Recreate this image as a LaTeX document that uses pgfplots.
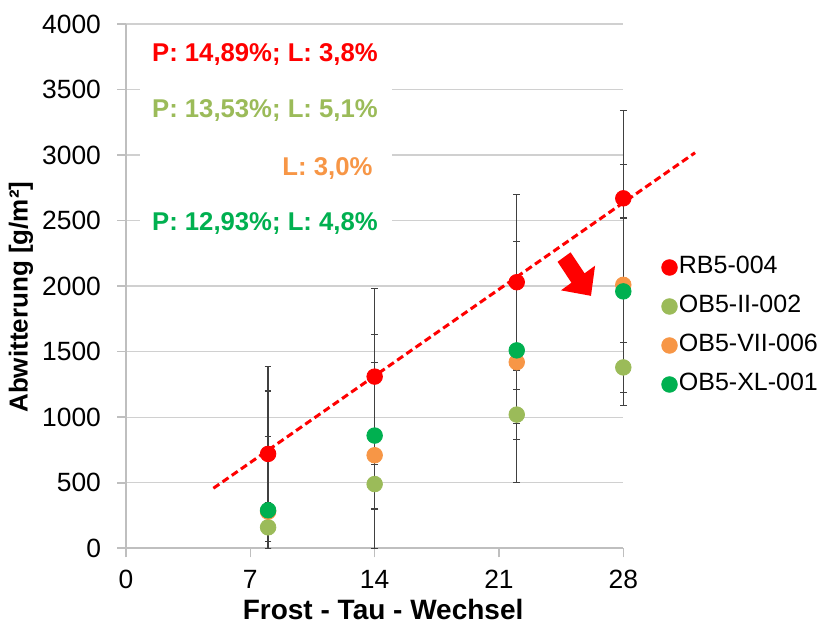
\documentclass[border=0pt]{standalone}
\usepackage{fontspec}
\setmainfont{Liberation Sans}
\usepackage{pgfplots}
\usepackage{pgfplotstable}
\pgfplotsset{compat=1.18}

\definecolor{rbred}{RGB}{255,0,0}
\definecolor{obolive}{RGB}{155,187,89}
\definecolor{oborange}{RGB}{247,150,70}
\definecolor{obgreen}{RGB}{0,176,80}
\definecolor{axgray}{RGB}{191,191,191}
\definecolor{gridgray}{RGB}{208,208,208}
\definecolor{errgray}{RGB}{64,64,64}

% x = Frost-Tau-Wechsel, y = Abwitterung, ep/em = error plus/minus
\pgfplotstableread{
x  y    ep  em
8  720  670 670
14 1310 670 670
22 2030 670 670
28 2670 670 670
}\rbdata
\pgfplotstableread{
x  y    ep  em
8  160  190 160
14 490  190 190
22 1020 190 190
28 1380 190 190
}\obzwei
\pgfplotstableread{
x  y    ep  em
8  280  920 280
14 710  920 710
22 1420 920 920
28 2010 920 920
}\obsieben
\pgfplotstableread{
x  y    ep  em
8  290  560 290
14 860  560 560
22 1510 560 560
28 1960 560 560
}\obxl

\pgfplotsset{
  errbar/.style={forget plot, only marks, errgray, mark=*, mark size=0pt,
    error bars/.cd, y dir=both, y explicit, error mark=|,
    error bar style={errgray, line width=0.6pt},
    error mark options={errgray, mark size=1.7pt, line width=0.6pt}},
  dot/.style={only marks, color=#1, mark=*, mark size=3.9pt,
    mark options={solid, fill=#1, draw=#1}},
}

\begin{document}
\begin{tikzpicture}
\useasboundingbox (-63pt,-37.85pt) rectangle (351pt,274.15pt);
\begin{axis}[
  at={(0pt,0pt)}, anchor=south west,
  scale only axis, width=248.65pt, height=262.15pt,
  xmin=0, xmax=28, ymin=0, ymax=4000,
  xtick={0,7,14,21,28}, ytick={0,500,...,4000},
  axis lines*=left,
  axis line style={draw=axgray, line width=0.8pt, -},
  every outer x axis line/.append style={-},
  every outer y axis line/.append style={-},
  tick align=outside, major tick length=4.5pt,
  tick style={axgray, line width=0.8pt},
  ymajorgrids, grid style={gridgray, line width=0.7pt},
  clip=false,
  /pgf/number format/assume math mode=true,
  /pgf/number format/1000 sep={},
  ticklabel style={font=\fontsize{13.2}{15}\selectfont},
  yticklabel style={xshift=-4.5pt},
  xticklabel style={yshift=-3pt},
  xlabel={Frost - Tau - Wechsel},
  ylabel={Abwitterung [g/m²]},
  xlabel style={at={(axis description cs:0.517,-0.1163)}, anchor=center,
    font=\fontsize{14}{16}\selectfont\bfseries},
  ylabel style={at={(axis description cs:-0.2111,0.479)}, anchor=center,
    font=\fontsize{13}{15}\selectfont\bfseries},
  legend style={at={(1,0.424)}, anchor=west, xshift=16pt, draw=none, fill=none,
    font=\fontsize{12.5}{14}\selectfont, row sep=6.4pt,
    nodes={inner sep=0.8pt, text height=9pt, text depth=2.5pt}},
  legend cell align=left,
  legend image code/.code={\draw[#1] plot coordinates {(0pt,0pt)};},
]

% white box behind the annotations hides the grid lines
\fill[white] (axis cs:0.8,2330) rectangle (axis cs:15,3930);
\begin{scope}[every node/.style={anchor=east, inner sep=0pt,
    font=\fontsize{12.85}{15}\selectfont\bfseries}]
\node[text=rbred] at (axis cs:14.2,3770) {P: 14,89\%; L: 3,8\%};
\node[text=obolive] at (axis cs:14.2,3338) {P: 13,53\%; L: 5,1\%};
\node[text=oborange] at (axis cs:13.9,2900) {L: 3,0\%};
\node[text=obgreen] at (axis cs:14.2,2480) {P: 12,93\%; L: 4,8\%};
\end{scope}

% error bars first, markers on top
\addplot[errbar] table[x=x, y=y, y error plus=ep, y error minus=em] {\rbdata};
\addplot[errbar] table[x=x, y=y, y error plus=ep, y error minus=em] {\obzwei};
\addplot[errbar] table[x=x, y=y, y error plus=ep, y error minus=em] {\obsieben};
\addplot[errbar] table[x=x, y=y, y error plus=ep, y error minus=em] {\obxl};

\addplot[dot=rbred] table[x=x, y=y] {\rbdata};
\addlegendentry{RB5-004}
\addplot[dot=obolive] table[x=x, y=y] {\obzwei};
\addlegendentry{OB5-II-002}
\addplot[dot=oborange] table[x=x, y=y] {\obsieben};
\addlegendentry{OB5-VII-006}
\addplot[dot=obgreen] table[x=x, y=y] {\obxl};
\addlegendentry{OB5-XL-001}

% linear trend of RB5-004
\addplot[forget plot, rbred, line width=1.5pt, dash pattern=on 3.6pt off 2pt]
  coordinates {(4.92,458) (32.04,3018)};

% red block arrow
\fill[rbred] (axis cs:24.30,2186) -- (axis cs:25.03,2258) -- (axis cs:25.82,2098)
  -- (axis cs:26.41,2156) -- (axis cs:26.18,1926) -- (axis cs:24.49,1968)
  -- (axis cs:25.08,2026) -- cycle;

\end{axis}
\end{tikzpicture}
\end{document}
